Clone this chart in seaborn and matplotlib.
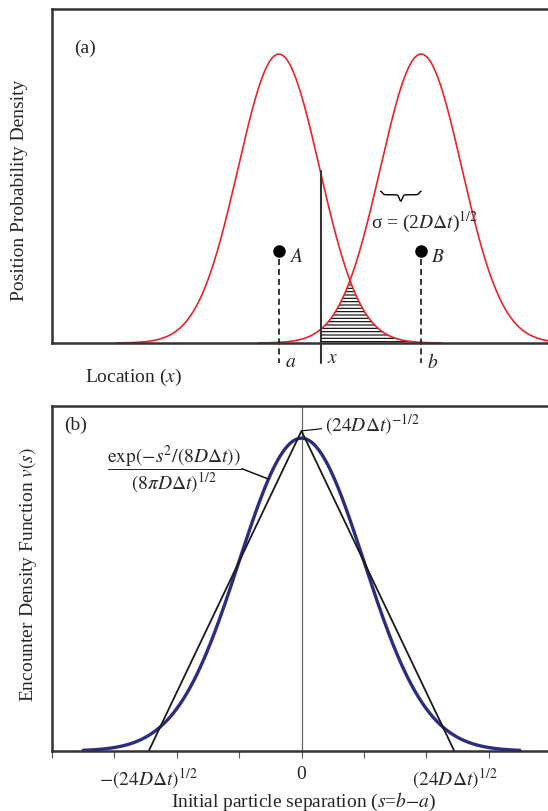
import numpy as np
import matplotlib.pyplot as plt
import seaborn as sns

sns.set_style("white")
plt.rcParams['font.family'] = ['Liberation Serif', 'DejaVu Serif']
plt.rcParams['mathtext.fontset'] = 'stix'
plt.rcParams['hatch.linewidth'] = 0.8

# panel (a): two particle position densities (units of sigma)
centers = [0.0, 3.5]          # positions a and b
sigma = 1.0
half_span = 4.0               # curves drawn over +-4 sigma
x_point = 1.04                # location x
dot_height = 0.32             # height of dots A, B
brace_span = [2.5, 3.5]

# panel (b): encounter density with D*dt = 1
D_dt = 1.0
s_range = [-7.0, 7.0]
tick_pos = [-8, -6, -4, -2, 0, 2, 4, 6]

red = '#e8232b'
navy = '#2b2d82'
spine_c = '#333333'
fs = 14

fig = plt.figure(figsize=(5.48, 8.12), dpi=100)
W, H = 548, 812

def px_axes(l, t, r, b):
    return fig.add_axes([l / W, 1 - b / H, (r - l) / W, (b - t) / H])

# ---------------- panel (a)
ax = px_axes(52, 10, 600, 344)
for c in centers:
    xs = np.linspace(c - half_span, c + half_span, 400)
    ys = np.exp(-0.5 * ((xs - c) / sigma) ** 2)
    sns.lineplot(x=xs, y=ys, color=red, lw=1.2, ax=ax)

# hatched overlap region to the right of x
xh = np.linspace(x_point, centers[1] + half_span, 400)
fa = np.exp(-0.5 * ((xh - centers[0]) / sigma) ** 2)
fb = np.exp(-0.5 * ((xh - centers[1]) / sigma) ** 2)
ax.fill_between(xh, 0, np.minimum(fa, fb), facecolor='none',
                edgecolor='black', hatch='-----', lw=0)

ax.set_xlim(-5.58, 7.9)
ax.set_ylim(0, 1.156)
ax.set_xticks([])
ax.set_yticks([])
for sp in ['left', 'top', 'bottom']:
    ax.spines[sp].set_color(spine_c)
    ax.spines[sp].set_linewidth(1.8)
ax.spines['right'].set_visible(False)

# vertical line at x
ax.plot([x_point, x_point], [-0.07, 0.595], color=spine_c, lw=1.5, clip_on=False)
ax.text(x_point + 0.15, -0.05, '$x$', fontsize=fs, va='center', ha='left')

# particles
for c, big, small in zip(centers, ['A', 'B'], ['a', 'b']):
    ax.plot([c], [dot_height], 'o', color='black', ms=8)
    ax.plot([c, c], [dot_height - 0.03, -0.07], color='black', lw=1.1,
            ls=(0, (4, 2.5)), clip_on=False)
    ax.text(c + 0.25, dot_height - 0.02, '$%s$' % big, fontsize=fs, va='center')
    ax.text(c + 0.15, -0.065, '$%s$' % small, fontsize=fs, va='center')

# brace for sigma
bx = np.linspace(brace_span[0], brace_span[1], 200)
mid = (brace_span[0] + brace_span[1]) / 2
by = 0.525 - 0.012 * (1 - np.exp(-((bx - brace_span[0]) / 0.06) ** 2)) \
     * (1 - np.exp(-((bx - brace_span[1]) / 0.06) ** 2)) \
     - 0.022 * np.exp(-((bx - mid) / 0.05) ** 2)
ax.plot(bx, by, color='black', lw=1.0)
ax.text(2.27, 0.42, 'σ = (2$D\\Delta t$)$^{1/2}$', fontsize=fs, va='center')

ax.text(-5.04, 1.024, '(a)', fontsize=fs, va='center')
fig.text(20 / W, 1 - 190 / H, 'Position Probability Density', rotation=90,
         fontsize=fs, ha='center', va='center')
fig.text(85 / W, 1 - 377 / H, 'Location ($x$)', fontsize=fs, ha='left', va='center')

# ---------------- panel (b)
bx_ax = px_axes(52, 407, 551, 752)
s = np.linspace(s_range[0], s_range[1], 500)
v = np.exp(-s ** 2 / (8 * D_dt)) / np.sqrt(8 * np.pi * D_dt)
w = np.sqrt(24 * D_dt)
tri_x = [-w, 0, w]
tri_y = [0, 1 / w, 0]
bx_ax.axvline(0, color='#666666', lw=0.9)
sns.lineplot(x=s, y=v, color=navy, lw=2.4, ax=bx_ax)
bx_ax.plot(tri_x, tri_y, color='#1a1a1a', lw=1.3)

bx_ax.set_xlim(-8, 8)
bx_ax.set_ylim(0, 0.22)
bx_ax.set_yticks([])
bx_ax.set_xticks(tick_pos)
bx_ax.set_xticklabels([])
bx_ax.tick_params(axis='x', direction='out', length=5, width=0.8, color='#555555',
                  bottom=True)
for sp in ['left', 'top', 'bottom']:
    bx_ax.spines[sp].set_color(spine_c)
    bx_ax.spines[sp].set_linewidth(1.8)
bx_ax.spines['right'].set_visible(False)

for xv, lab in zip([-w, 0, w], [r'$-(24D\Delta t)^{1/2}$', '0', r'$(24D\Delta t)^{1/2}$']):
    bx_ax.text(xv, -0.009, lab, fontsize=fs, ha='center', va='top')

bx_ax.annotate(r'$(24D\Delta t)^{-1/2}$', xy=(0, 1 / w), xytext=(0.75, 0.209),
               fontsize=fs, va='center', ha='left',
               arrowprops=dict(arrowstyle='-', color='black', lw=0.8,
                               shrinkA=0, shrinkB=0))
# gaussian label with leader line
bx_ax.text(-4.09, 0.180, r'$\dfrac{\exp(-s^2/(8D\Delta t))}{(8\pi D\Delta t)^{1/2}}$',
           fontsize=fs, ha='center', va='center')
bx_ax.plot([-1.91, -1.07], [0.180, 0.1735], color='black', lw=1.0)
bx_ax.text(-7.6, 0.208, '(b)', fontsize=fs, va='center')

fig.text(28 / W, 1 - 575 / H, 'Encounter Density Function $v(s)$', rotation=90,
         fontsize=fs, ha='center', va='center')
fig.text(304 / W, 1 - 802 / H, 'Initial particle separation ($s$=$b$$-$$a$)',
         fontsize=fs, ha='center', va='center')

fig.savefig('out.png', dpi=100)
